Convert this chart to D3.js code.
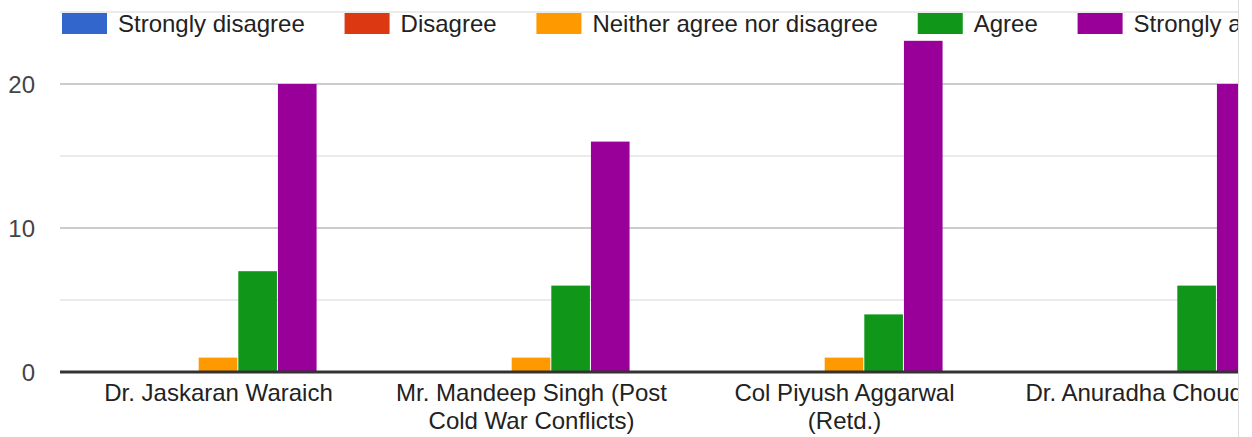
<!DOCTYPE html>
<html>
<head>
<meta charset="utf-8">
<script src="https://cdn.jsdelivr.net/npm/d3@7"></script>
<style>
  html, body { margin: 0; padding: 0; background: #fff; }
  svg { display: block; }
</style>
</head>
<body>
<div id="chart"></div>
<script>
// ---- data ----
const categories = [
  'Dr. Jaskaran Waraich',
  'Mr. Mandeep Singh (Post Cold War Conflicts)',
  'Col Piyush Aggarwal (Retd.)',
  'Dr. Anuradha Choudhary'
];
const seriesNames = ['Strongly disagree', 'Disagree', 'Neither agree nor disagree', 'Agree', 'Strongly agree'];
const stronglyDisagree = [0, 0, 0, 0];
const disagree = [0, 0, 0, 0];
const neither = [1, 1, 1, 0];
const agree = [7, 6, 4, 6];
const stronglyAgree = [20, 16, 23, 20];
const yTicks = [0, 10, 20];
const yGrid = [5, 10, 15, 20, 25];

const seriesValues = [stronglyDisagree, disagree, neither, agree, stronglyAgree];
const colors = ['#3366cc', '#dc3912', '#ff9900', '#109618', '#990099'];

// ---- layout ----
const W = 1252, H = 437;
const clipRight = 1238;           // page edge cuts the chart here (reference is cropped)
const plot = { left: 60, right: 1314, top: 12, bottom: 372 };
const FONT = '"Liberation Sans", Arial, sans-serif';

const svg = d3.select('#chart').append('svg')
  .attr('width', W).attr('height', H);

svg.append('clipPath').attr('id', 'pageclip')
  .append('rect').attr('x', 0).attr('y', 0).attr('width', clipRight).attr('height', H);

const g = svg.append('g').attr('clip-path', 'url(#pageclip)');

const x0 = d3.scaleBand().domain(categories)
  .range([plot.left + 2, plot.right])
  .paddingInner(0.367).paddingOuter(0.1835);
const x1 = d3.scaleBand().domain(seriesNames).range([0, x0.bandwidth()]);
const y = d3.scaleLinear().domain([0, 25]).range([plot.bottom, plot.top]);

// gridlines
g.selectAll('line.grid').data(yGrid).join('line')
  .attr('x1', plot.left).attr('x2', clipRight)
  .attr('y1', d => y(d)).attr('y2', d => y(d))
  .attr('stroke', d => d % 10 === 0 ? '#cccccc' : '#ebebeb')
  .attr('stroke-width', 2);

// y tick labels
g.selectAll('text.ytick').data(yTicks).join('text')
  .attr('x', 35).attr('y', d => y(d))
  .attr('text-anchor', 'end').attr('dominant-baseline', 'central')
  .attr('font-family', FONT).attr('font-size', 24).attr('fill', '#444')
  .text(d => d);

// bars
const rows = [];
categories.forEach((c, i) => {
  seriesNames.forEach((s, j) => {
    rows.push({ cat: c, series: s, value: seriesValues[j][i], color: colors[j] });
  });
});
g.append('g').selectAll('rect').data(rows.filter(d => d.value > 0)).join('rect')
  .attr('x', d => x0(d.cat) + x1(d.series))
  .attr('width', x1.bandwidth() - 1)
  .attr('y', d => y(d.value))
  .attr('height', d => y(0) - y(d.value))
  .attr('fill', d => d.color);

// baseline
g.append('line')
  .attr('x1', plot.left).attr('x2', clipRight)
  .attr('y1', y(0)).attr('y2', y(0))
  .attr('stroke', '#333').attr('stroke-width', 3);

// category labels, wrapped
const maxLabelW = 285;
categories.forEach(c => {
  const cx = x0(c) + x0.bandwidth() / 2;
  const t = g.append('text')
    .attr('text-anchor', 'middle')
    .attr('font-family', FONT).attr('font-size', 24).attr('fill', '#222');
  const words = c.split(' ');
  let line = [];
  let lineNo = 0;
  let tspan = t.append('tspan').attr('x', cx).attr('y', 401);
  words.forEach(w => {
    line.push(w);
    tspan.text(line.join(' '));
    if (tspan.node().getComputedTextLength() > maxLabelW && line.length > 1) {
      line.pop();
      tspan.text(line.join(' '));
      line = [w];
      lineNo++;
      tspan = t.append('tspan').attr('x', cx).attr('y', 401 + lineNo * 28).text(w);
    }
  });
});

// legend
const legend = g.append('g');
let lx = 62;
seriesNames.forEach((s, j) => {
  legend.append('rect')
    .attr('x', lx).attr('y', 13).attr('width', 45).attr('height', 21)
    .attr('fill', colors[j]);
  const t = legend.append('text')
    .attr('x', lx + 56).attr('y', 32)
    .attr('font-family', FONT).attr('font-size', 24).attr('fill', '#222')
    .text(s);
  lx += 56 + t.node().getComputedTextLength() + 39.8;
});

// page edge
svg.append('line')
  .attr('x1', clipRight + 0.5).attr('x2', clipRight + 0.5)
  .attr('y1', 0).attr('y2', H)
  .attr('stroke', '#dddddd').attr('stroke-width', 1);
</script>
</body>
</html>
